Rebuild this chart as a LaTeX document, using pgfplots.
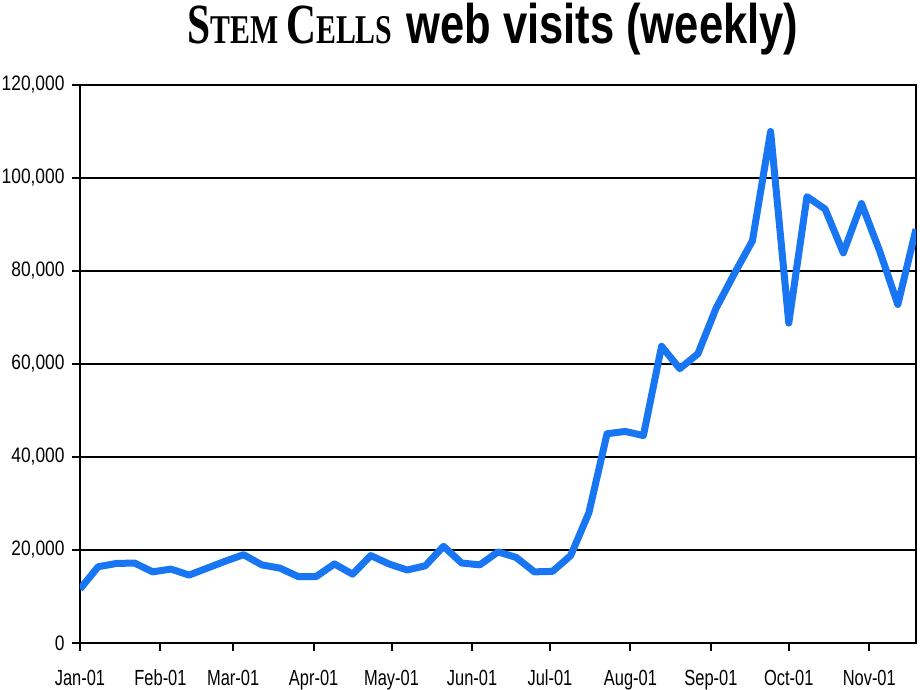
\documentclass[border=0pt]{standalone}
\usepackage{fontspec}
\setmainfont{Liberation Sans}
\newfontfamily\titleserif{Liberation Serif}[FakeStretch=0.73]
\newfontfamily\titlesans{Liberation Sans}[FakeStretch=0.78]
\newfontfamily\ylab{Liberation Sans}[FakeStretch=0.83]
\newfontfamily\xlab{Liberation Sans}[FakeStretch=0.75]
\usepackage{pgfplots}
\pgfplotsset{compat=1.18}
\definecolor{visitblue}{RGB}{24,118,242}

% weekly visits, x = days since 1 Jan 2001
\pgfplotstableread{
day visits
0 11600
7 16400
14 17100
21 17200
28 15300
35 15900
42 14600
49 16100
56 17600
63 19000
70 16800
77 16100
84 14300
91 14300
98 17000
105 14800
112 18800
119 17000
126 15700
133 16600
140 20800
147 17200
154 16800
161 19600
168 18400
175 15300
182 15400
189 18800
196 28000
203 45000
210 45500
217 44600
224 63800
231 59000
238 62200
245 72000
252 79400
259 86500
266 110000
273 68800
280 96000
287 93300
294 83900
301 94500
308 84300
315 72800
322 89000
}\visits

\newcommand{\charttitle}{%
  {\titleserif\bfseries{\fontsize{57}{57}\selectfont S}{\fontsize{41}{41}\selectfont TEM\ }{\fontsize{57}{57}\selectfont C}{\fontsize{41}{41}\selectfont ELLS}}%
  \hspace{14bp}{\titlesans\bfseries\fontsize{56}{56}\selectfont web visits (weekly)}}

\begin{document}
\begin{tikzpicture}
\path[use as bounding box] (-80bp,-47bp) rectangle (840bp,643bp);
\begin{axis}[
    at={(0,0)}, anchor=south west,
    scale only axis,
    width=836bp, height=558bp,
    xmin=0, xmax=322,
    ymin=0, ymax=120000,
    xtick={0,31,59,90,120,151,181,212,243,273,304},
    xticklabels={Jan-01,Feb-01,Mar-01,Apr-01,May-01,Jun-01,Jul-01,Aug-01,Sep-01,Oct-01,Nov-01},
    ytick={0,20000,40000,60000,80000,100000,120000},
    yticklabels={0,{20,000},{40,000},{60,000},{80,000},{100,000},{120,000}},
    scaled y ticks=false,
    xtick pos=bottom, ytick pos=left,
    tick align=outside,
    major tick length=8bp,
    every tick/.style={black, line width=2bp},
    axis line style={line width=2bp},
    ymajorgrids,
    major grid style={black, line width=2bp},
    yticklabel style={font=\ylab\fontsize{21}{21}\selectfont, xshift=-4bp},
    xticklabel style={font=\xlab\fontsize{22}{22}\selectfont, anchor=north,
        text height=16bp, text depth=5bp, yshift=-15bp},
    title={\charttitle},
    title style={at={(0.5,1)}, anchor=base, yshift=36bp, xshift=-5bp},
]
\addplot[visitblue, line width=7bp, line join=round] table[x=day, y=visits] {\visits};
\end{axis}
\end{tikzpicture}
\end{document}
